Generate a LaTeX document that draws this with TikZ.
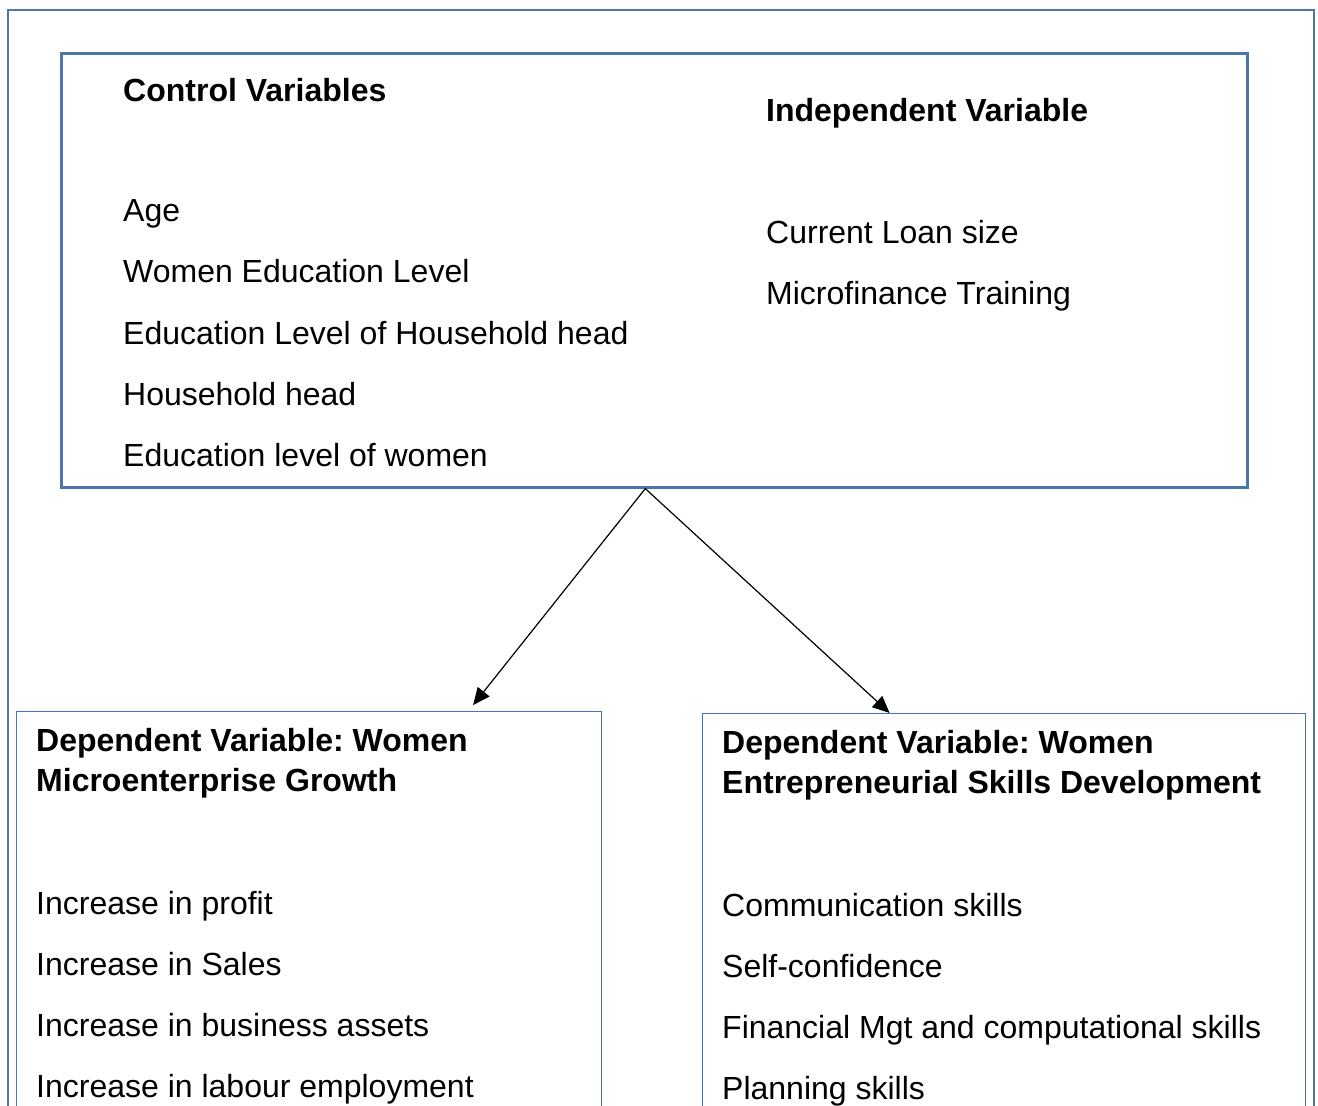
\documentclass[tikz,border=0pt]{standalone}
\usepackage{fontspec}
\setmainfont{Liberation Sans}
\usetikzlibrary{arrows.meta}
\definecolor{frameblue}{HTML}{4A77A8}
\definecolor{boxblue}{HTML}{4472C4}
\frenchspacing
\tikzset{
  txt/.style={anchor=base west, inner sep=0pt, font=\fontsize{32}{32}\selectfont},
  hdr/.style={txt, font=\fontsize{32}{32}\selectfont\bfseries},
  outerbox/.style={draw=frameblue, line width=2.6pt},
  lowbox/.style={draw=boxblue, line width=1.2pt},
  link/.style={draw=black, line width=1.2pt, -{Triangle[length=17pt, width=15pt]}}
}
\begin{document}
\begin{tikzpicture}[x=1pt, y=-1pt]
  \useasboundingbox (0,0) rectangle (1318,1106);
  \clip (0,0) rectangle (1318,1106);
  \fill[white] (0,0) rectangle (1318,1106);

  % outer frame (runs past the lower edge)
  \draw[outerbox] (8,1130) -- (8,10) -- (1314,10) -- (1314,1130);

  % upper box with control and independent variables
  \node[outerbox, minimum width=1186pt, minimum height=434pt, anchor=north west, inner sep=0pt] (top) at (60,52) {};
  \node[hdr] (ctitle) at (123,101) {Control Variables};
  \node[txt] (c1) at (123,221) {Age};
  \node[txt] (c2) at (123,282) {Women Education Level};
  \node[txt] (c3) at (123,344) {Education Level of Household head};
  \node[txt] (c4) at (123,405) {Household head};
  \node[txt] (c5) at (123,466) {Education level of women};

  \node[hdr] (ititle) at (766,121) {Independent Variable};
  \node[txt] (i1) at (766,243) {Current Loan size};
  \node[txt] (i2) at (766,304) {Microfinance Training};

  % lower boxes with the dependent variables
  \node[lowbox, minimum width=585pt, minimum height=450pt, anchor=north west, inner sep=0pt] (growth) at (16,711) {};
  \node[hdr] (g1) at (36,751) {Dependent Variable: Women};
  \node[hdr] (g2) at (36,791) {Microenterprise Growth};
  \node[txt] (g3) at (36,914) {Increase in profit};
  \node[txt] (g4) at (36,975) {Increase in Sales};
  \node[txt] (g5) at (36,1036) {Increase in business assets};
  \node[txt] (g6) at (36,1097) {Increase in labour employment};

  \node[lowbox, minimum width=603pt, minimum height=450pt, anchor=north west, inner sep=0pt] (skills) at (702,713) {};
  \node[hdr] (s1) at (722,753) {Dependent Variable: Women};
  \node[hdr] (s2) at (722,793) {Entrepreneurial Skills Development};
  \node[txt] (s3) at (722,916) {Communication skills};
  \node[txt] (s4) at (722,977) {Self-confidence};
  \node[txt] (s5) at (722,1038) {Financial Mgt and computational skills};
  \node[txt] (s6) at (722,1099) {Planning skills};

  % connectors from the upper box down to both outcome boxes
  \coordinate (apex) at ([xshift=-9pt]top.south);
  \coordinate (gin) at ([xshift=164pt, yshift=6pt]growth.north);
  \coordinate (sin) at ([xshift=-114.5pt]skills.north);
  \draw[link] (apex) -- (gin);
  \draw[link] (apex) -- (sin);
\end{tikzpicture}
\end{document}
